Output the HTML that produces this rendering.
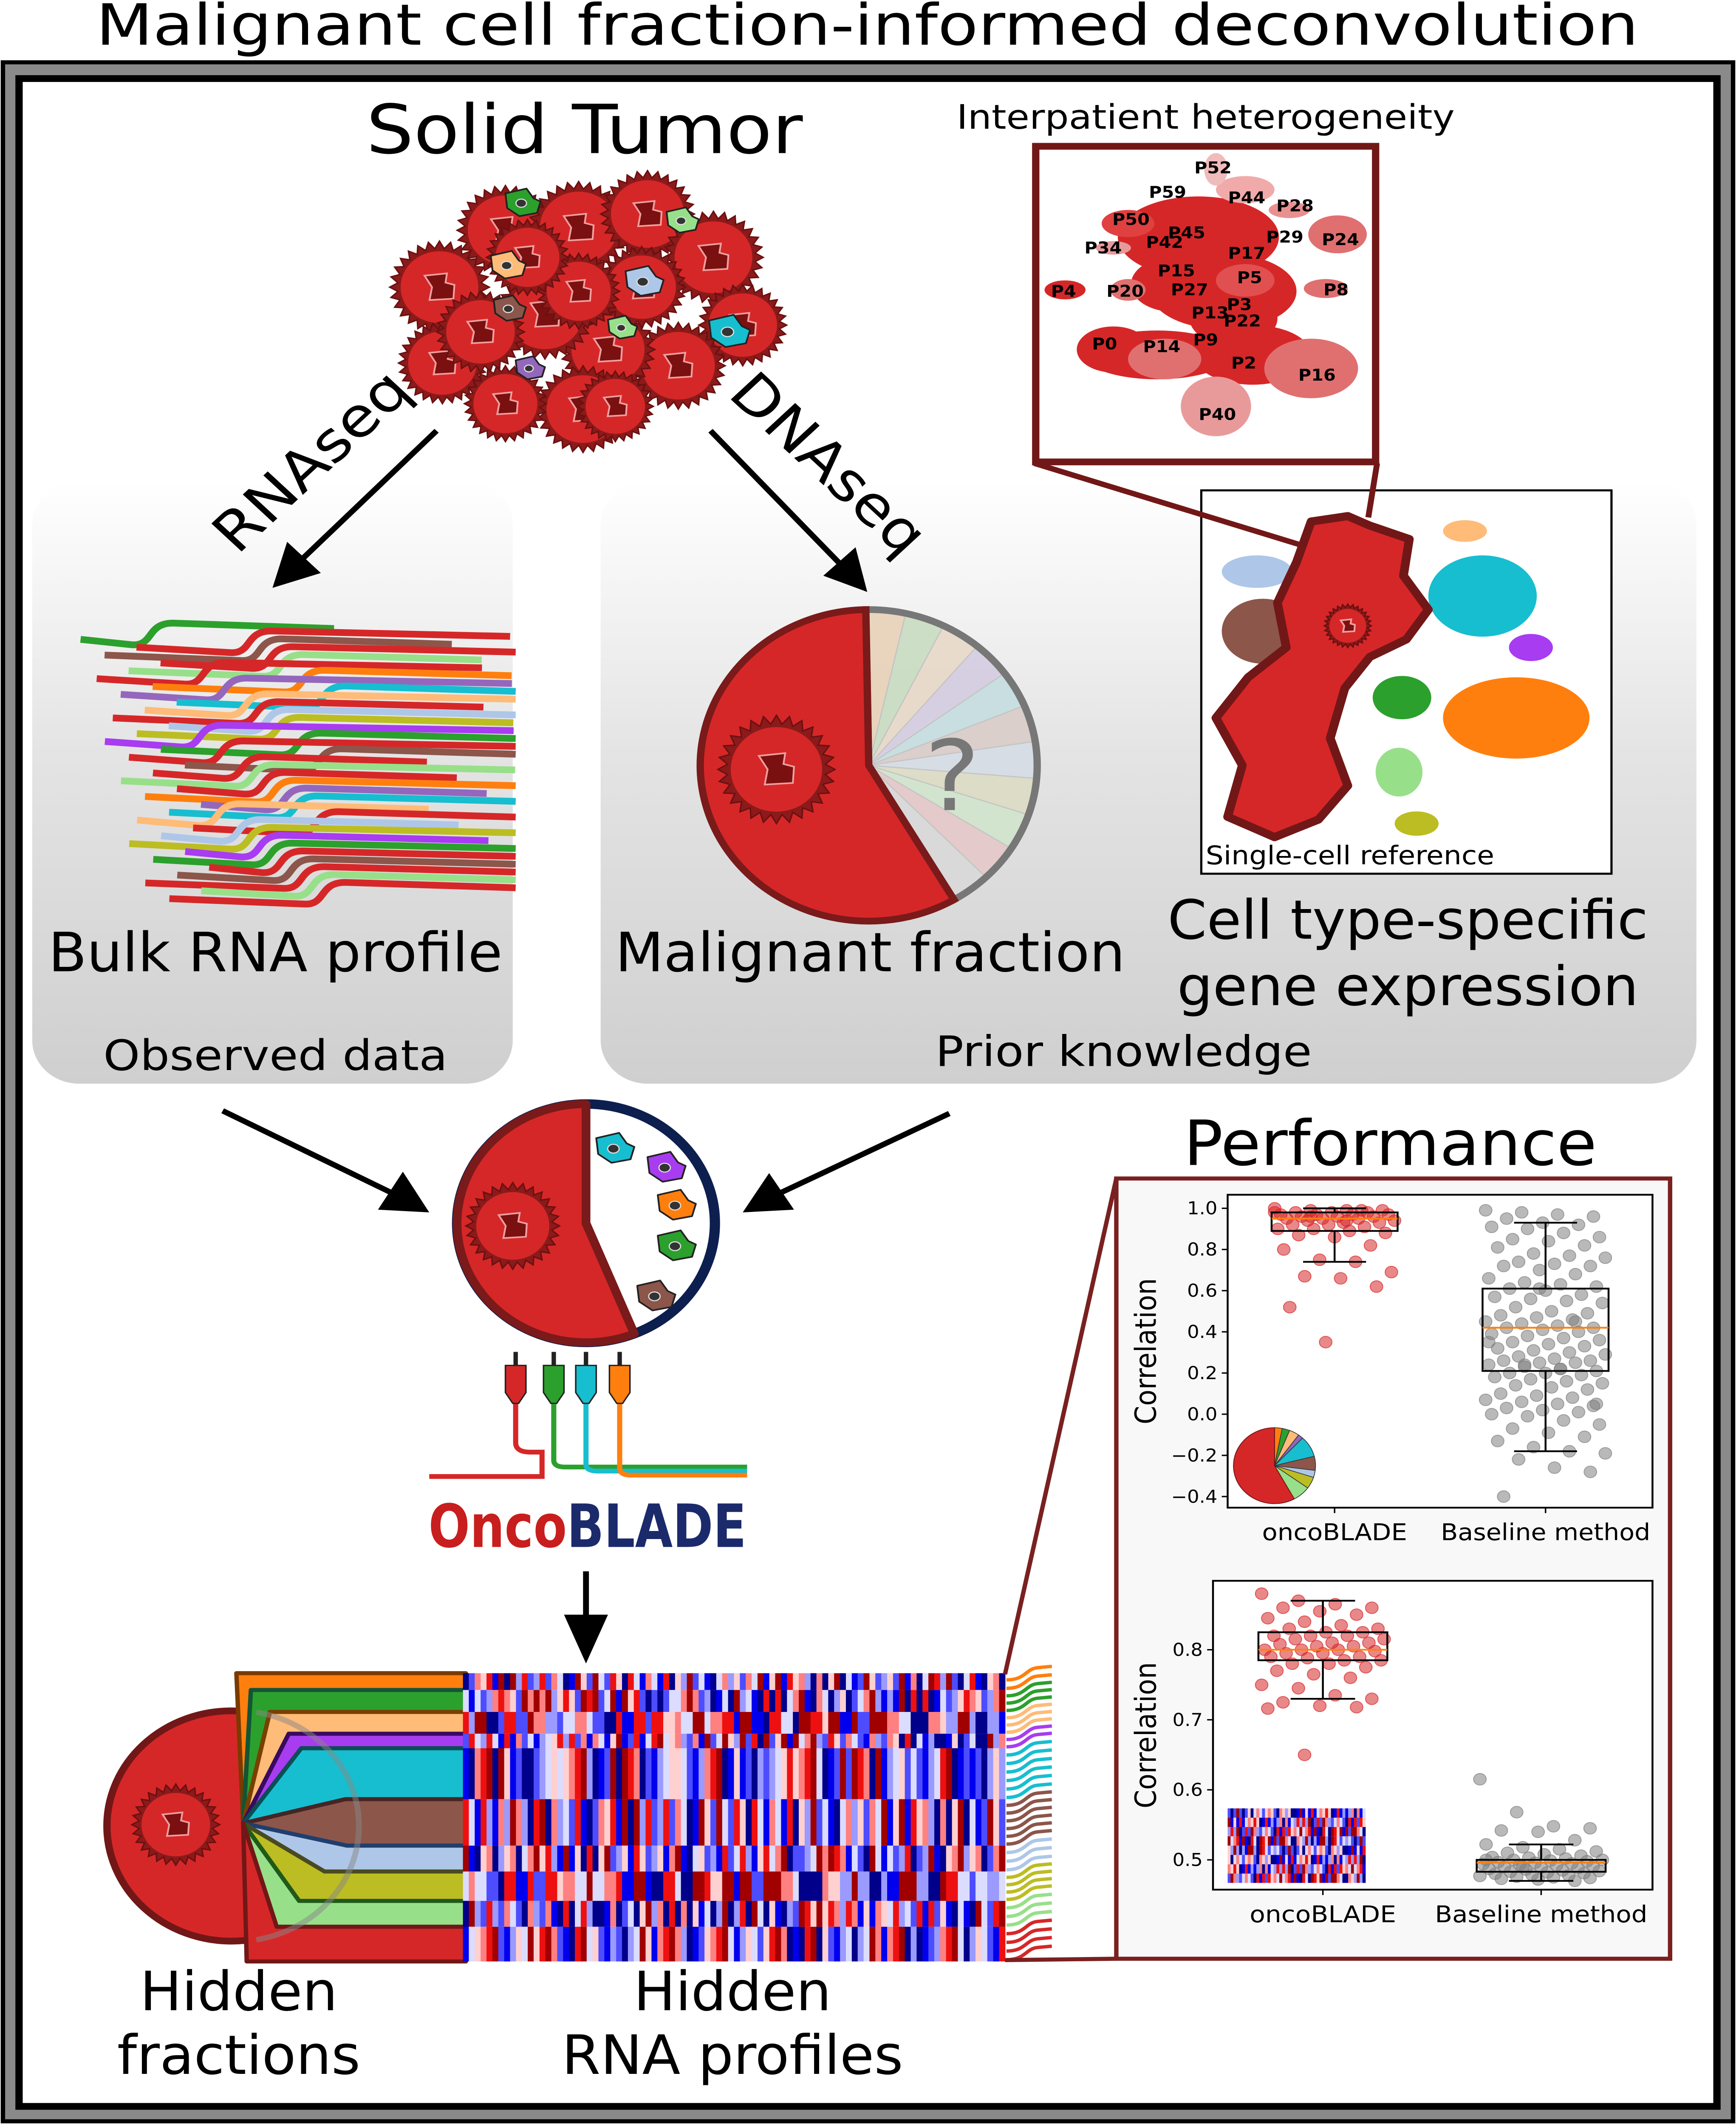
<!DOCTYPE html>
<html><head><meta charset="utf-8">
<style>
html,body{margin:0;padding:0;background:#fff;width:100%;height:100%;overflow:hidden;}
svg{display:block;position:fixed;left:0;top:0;width:100vw;height:100vh;}
text{font-family:"DejaVu Sans","Liberation Sans",sans-serif;}
</style></head>
<body>
<svg id="root" xmlns="http://www.w3.org/2000/svg" viewBox="0 0 1185 1568" preserveAspectRatio="none">
<defs>
<linearGradient id="pg" x1="0" y1="0" x2="0" y2="1">
<stop offset="0" stop-color="#ffffff"/><stop offset="0.45" stop-color="#e4e4e4"/><stop offset="1" stop-color="#cfcfcf"/>
</linearGradient>
</defs>
<rect x="0" y="0" width="1185" height="1568" fill="#fff"/>
<text x="592" y="33" font-size="42" text-anchor="middle" textLength="1053" lengthAdjust="spacingAndGlyphs">Malignant cell fraction-informed deconvolution</text>
<rect x="2" y="46" width="1181" height="1520" fill="#8a8a8a" stroke="#000" stroke-width="3"/>
<rect x="13" y="58" width="1159" height="1497" fill="#fff" stroke="#000" stroke-width="5"/>

<rect x="22" y="355" width="328" height="445" rx="32" fill="url(#pg)"/>
<rect x="410" y="355" width="748" height="445" rx="32" fill="url(#pg)"/>

<text x="399" y="113" font-size="50" text-anchor="middle" textLength="298" lengthAdjust="spacingAndGlyphs">Solid Tumor</text>
<g id="tumor"></g>

<line x1="298" y1="318" x2="205" y2="414" stroke="#000" stroke-width="4"/>
<polygon points="186,434 196,400 219,423" fill="#000"/>
<text transform="translate(222,350) rotate(-45)" font-size="40" text-anchor="middle" textLength="170" lengthAdjust="spacingAndGlyphs">RNAseq</text>
<line x1="485" y1="318" x2="575" y2="418" stroke="#000" stroke-width="4"/>
<polygon points="592,437 562,425 584,404" fill="#000"/>
<text transform="translate(556,352) rotate(45)" font-size="40" text-anchor="middle" textLength="170" lengthAdjust="spacingAndGlyphs">DNAseq</text>

<g id="bulk"></g>
<text x="188" y="717" font-size="40" text-anchor="middle" textLength="310" lengthAdjust="spacingAndGlyphs">Bulk RNA profile</text>
<text x="188" y="790" font-size="31" text-anchor="middle" textLength="235" lengthAdjust="spacingAndGlyphs">Observed data</text>

<g id="pie"></g>
<text x="594" y="717" font-size="40" text-anchor="middle" textLength="348" lengthAdjust="spacingAndGlyphs">Malignant fraction</text>
<text x="767" y="787" font-size="31" text-anchor="middle" textLength="257" lengthAdjust="spacingAndGlyphs">Prior knowledge</text>

<text x="823" y="95" font-size="25" text-anchor="middle" textLength="340" lengthAdjust="spacingAndGlyphs">Interpatient heterogeneity</text>
<g id="umap"></g>
<rect x="707" y="108" width="232" height="233" fill="none" stroke="#721717" stroke-width="5"/>

<rect x="820" y="362" width="280" height="283" fill="#fff" stroke="#000" stroke-width="1.5"/>
<g id="sc"></g>
<line x1="706" y1="342" x2="887" y2="402" stroke="#721717" stroke-width="4"/>
<line x1="940" y1="342" x2="934" y2="382" stroke="#721717" stroke-width="4"/>
<text x="823" y="638" font-size="19" textLength="197" lengthAdjust="spacingAndGlyphs">Single-cell reference</text>
<text x="961" y="693" font-size="40" text-anchor="middle" textLength="328" lengthAdjust="spacingAndGlyphs">Cell type-specific</text>
<text x="961" y="742" font-size="40" text-anchor="middle" textLength="315" lengthAdjust="spacingAndGlyphs">gene expression</text>

<line x1="152" y1="820" x2="270" y2="882" stroke="#000" stroke-width="4"/>
<polygon points="293,895 258,893 275,865" fill="#000"/>
<line x1="648" y1="822" x2="530" y2="882" stroke="#000" stroke-width="4"/>
<polygon points="507,895 525,866 542,893" fill="#000"/>

<g id="center"></g>
<g id="plugs"></g>
<text x="401" y="1142" font-size="44" font-weight="bold" text-anchor="middle" textLength="217" lengthAdjust="spacingAndGlyphs" font-family="Liberation Sans Narrow, Liberation Sans, sans-serif"><tspan fill="#c81e1e">Onco</tspan><tspan fill="#1b2a6b">BLADE</tspan></text>
<line x1="400" y1="1160" x2="400" y2="1195" stroke="#000" stroke-width="4"/>
<polygon points="385,1192 415,1192 400,1228" fill="#000"/>

<g id="sankey"></g>
<g id="heat"></g>
<g id="waves"></g>
<text x="163" y="1484" font-size="40" text-anchor="middle" textLength="135" lengthAdjust="spacingAndGlyphs">Hidden</text>
<text x="163" y="1531" font-size="40" text-anchor="middle" textLength="166" lengthAdjust="spacingAndGlyphs">fractions</text>
<text x="500" y="1484" font-size="40" text-anchor="middle" textLength="135" lengthAdjust="spacingAndGlyphs">Hidden</text>
<text x="500" y="1531" font-size="40" text-anchor="middle" textLength="233" lengthAdjust="spacingAndGlyphs">RNA profiles</text>

<text x="949" y="860" font-size="46" text-anchor="middle" textLength="282" lengthAdjust="spacingAndGlyphs">Performance</text>
<line x1="686" y1="1236" x2="762" y2="870" stroke="#7a2020" stroke-width="3"/>
<line x1="686" y1="1447" x2="762" y2="1446" stroke="#7a2020" stroke-width="3"/>
<rect x="762" y="870" width="378" height="576" fill="#f8f8f8" stroke="#7a2020" stroke-width="3"/>
<g id="chart1"></g>
<g id="chart2"></g>
</svg>

<script>
// ---- chart data ----
const categories = ["oncoBLADE", "Baseline method"];
const c1Ticks = [1.0, 0.8, 0.6, 0.4, 0.2, 0.0, -0.2, -0.4];
const c1TickLabels = ["1.0", "0.8", "0.6", "0.4", "0.2", "0.0", "\u22120.2", "\u22120.4"];
const c1OncoValues = [1.0,0.99,0.99,0.99,0.98,0.98,0.98,0.97,0.97,0.97,0.97,0.96,0.96,0.96,0.95,0.95,0.95,0.94,0.94,0.93,0.93,0.92,0.92,0.91,0.9,0.9,0.89,0.88,0.87,0.86,0.82,0.8,0.75,0.74,0.69,0.67,0.66,0.62,0.52,0.35,0.99,0.98,0.96,0.94];
const c1BaseValues = [0.99,0.98,0.97,0.96,0.95,0.93,0.92,0.91,0.9,0.88,0.86,0.85,0.84,0.82,0.81,0.78,0.77,0.76,0.74,0.73,0.72,0.72,0.7,0.68,0.66,0.64,0.63,0.62,0.61,0.6,0.58,0.57,0.56,0.55,0.54,0.52,0.5,0.49,0.48,0.47,0.46,0.45,0.44,0.43,0.42,0.42,0.41,0.4,0.39,0.38,0.37,0.36,0.35,0.34,0.33,0.32,0.31,0.3,0.29,0.28,0.27,0.26,0.26,0.25,0.25,0.24,0.23,0.22,0.21,0.2,0.2,0.19,0.18,0.17,0.16,0.15,0.14,0.13,0.12,0.1,0.09,0.08,0.07,0.06,0.05,0.04,0.03,0.02,0.01,0.0,-0.01,-0.03,-0.05,-0.07,-0.09,-0.11,-0.13,-0.16,-0.18,-0.19,-0.22,-0.26,-0.28,-0.4,0.61,0.45,0.35,0.24,0.22,0.05];
const c1Q1 = [0.89, 0.21];
const c1Median = [0.95, 0.42];
const c1Q3 = [0.98, 0.61];
const c1WhiskLo = [0.74, -0.18];
const c1WhiskHi = [1.0, 0.93];

const c2Ticks = [0.8, 0.7, 0.6, 0.5];
const c2TickLabels = ["0.8", "0.7", "0.6", "0.5"];
const c2OncoValues = [0.88,0.87,0.865,0.86,0.86,0.855,0.85,0.845,0.84,0.835,0.83,0.83,0.825,0.825,0.82,0.82,0.82,0.815,0.815,0.81,0.81,0.808,0.805,0.805,0.8,0.8,0.8,0.798,0.795,0.795,0.79,0.79,0.788,0.785,0.785,0.78,0.78,0.775,0.77,0.765,0.76,0.75,0.745,0.735,0.73,0.725,0.72,0.718,0.716,0.65];
const c2BaseValues = [0.615,0.568,0.548,0.545,0.542,0.54,0.528,0.522,0.518,0.515,0.512,0.51,0.508,0.506,0.504,0.503,0.502,0.5,0.5,0.499,0.498,0.497,0.496,0.495,0.494,0.493,0.492,0.491,0.49,0.489,0.488,0.487,0.486,0.485,0.484,0.483,0.482,0.481,0.48,0.479,0.478,0.477,0.476,0.475,0.474,0.473,0.472,0.47,0.5,0.49];
const c2Q1 = [0.785, 0.483];
const c2Median = [0.80, 0.496];
const c2Q3 = [0.825, 0.50];
const c2WhiskLo = [0.73, 0.47];
const c2WhiskHi = [0.87, 0.522];

const piePrior = [0.58, 0.03, 0.03, 0.04, 0.02, 0.09, 0.06, 0.03, 0.05, 0.07];
const pieColors = ["#d62728","#ff7f0e","#2ca02c","#ffbb78","#9467bd","#17becf","#8c564b","#aec7e8","#bcbd22","#98df8a"];

// ---- helpers ----
const NS = "http://www.w3.org/2000/svg";
function mk(parent, tag, attrs) {
  const e = document.createElementNS(NS, tag);
  for (const k in attrs) e.setAttribute(k, attrs[k]);
  parent.appendChild(e);
  return e;
}
function $(id){return document.getElementById(id);}

function star(cx, cy, r, n) {
  let p = [];
  for (let i = 0; i < n * 2; i++) {
    const a = Math.PI * i / n;
    const rr = i % 2 ? r * 0.84 : r;
    p.push((cx + rr * Math.cos(a)).toFixed(1) + "," + (cy + rr * Math.sin(a)).toFixed(1));
  }
  return p.join(" ");
}
function tumorCell(g, cx, cy, r, name) {
  const s = mk(g, "polygon", {points: star(cx, cy, r, 28), fill: "#8b1a1a", stroke: "#6b1010", "stroke-width": 1});
  
  
  const inner = mk(g, "circle", {cx: cx, cy: cy, r: r*0.78, fill: "#d62728"});
  
  
  const n = mk(g, "polygon", {points: [[-0.3,-0.25],[0.15,-0.3],[0.12,-0.1],[0.3,-0.05],[0.28,0.25],[-0.2,0.28],[-0.15,0]].map(q=>(cx+q[0]*r).toFixed(1)+","+(cy+q[1]*r).toFixed(1)).join(" "), fill: "#7a1010", stroke: "#f0a0a0", "stroke-width": 1.2});
  
  
}
function blobCell(g, cx, cy, s, color, name) {
  const pts = [[-1,-0.6],[0.2,-0.9],[0.6,-0.3],[1,-0.1],[0.8,0.6],[-0.2,0.8],[-0.9,0.3]];
  const b = mk(g, "polygon", {points: pts.map(q=>(cx+q[0]*s).toFixed(1)+","+(cy+q[1]*s).toFixed(1)).join(" "), fill: color, stroke: "#222", "stroke-width": 1.2, "stroke-linejoin": "round"});
  
  
  const n = mk(g, "ellipse", {cx: cx - 0.1*s, cy: cy, rx: 0.3*s, ry: 0.25*s, fill: "#333", stroke: "#ddd", "stroke-width": 0.8});
  
  
}

// ---- tumor cluster ----
(function(){
  const g = $("tumor");
  const cells = [[300,212,34],[345,170,33],[395,168,34],[442,158,32],[487,190,34],[507,240,30],[302,268,30],[463,270,32],[415,258,32],[372,232,33],[328,245,30],[398,302,32],[438,212,30],[345,298,28],[395,215,28],[360,190,28],[420,300,26]];
  cells.forEach((c,i)=>tumorCell(g,c[0],c[1],c[2],'tumor-cell-'+i));
  blobCell(g,357,150,12,"#2ca02c",'stromal-cell-green');
  blobCell(g,347,196,12,"#ffbb78",'stromal-cell-peach');
  blobCell(g,348,228,11,"#8c564b",'stromal-cell-brown');
  blobCell(g,466,163,11,"#98df8a",'stromal-cell-lightgreen');
  blobCell(g,440,208,13,"#aec7e8",'stromal-cell-lightblue');
  blobCell(g,498,245,14,"#17becf",'stromal-cell-cyan');
  blobCell(g,425,242,10,"#98df8a",'stromal-cell-lightgreen-2');
  blobCell(g,362,272,10,"#9467bd",'stromal-cell-purple');
})();

// ---- bulk rna lines ----
(function(){
  const g = $("bulk");
  const cols = ["#2ca02c","#d62728","#8c564b","#d62728","#98df8a","#d62728","#ff7f0e","#9467bd","#17becf","#ffbb78","#d62728","#aec7e8","#bcbd22","#a83cf0"];
  for (let i = 0; i < 34; i++) {
    const x0 = 55 + ((i * 37) % 60) + i * 1.2;
    const y0 = 472 + i * 5.8;
    const len = 110 + ((i * 53) % 100);
    const sx = x0 + 35 + ((i * 29) % 60);
    const d = `M${x0},${y0} L${sx},${y0+4} C${sx+15},${y0+5} ${sx+10},${y0-12} ${sx+28},${y0-12} L${Math.min(sx+28+len,352)},${y0-8}`;
    const p = mk(g, "path", {d: d, fill: "none", stroke: cols[i % cols.length], "stroke-width": 5});
    
    
  }
})();

// ---- pie ----
(function(){
  const g = $("pie");
  const cx = 593, cy = 565, r = 115;
  const a0 = -91 * Math.PI / 180, a1 = 59.6 * Math.PI / 180;
  const pastel = ["#e8d0b8","#c8dcc0","#e8d8c8","#d4cce0","#c4dde0","#d8ccc8","#d4dce4","#dcdcc4","#d0e4cc","#e4c8c8","#d8d8d8"];
  const nG = 11;
  for (let i = 0; i < nG; i++) {
    const t0 = a0 + (a1 - a0) * i / nG, t1 = a0 + (a1 - a0) * (i + 1) / nG;
    const p = mk(g, "path", {d: `M${cx},${cy} L${cx+r*Math.cos(t0)},${cy+r*Math.sin(t0)} A${r},${r} 0 0 1 ${cx+r*Math.cos(t1)},${cy+r*Math.sin(t1)} Z`, fill: pastel[i], "fill-opacity": 0.9, stroke: "#c4c4c4", "stroke-width": 0.8});
    
    
  }
  const gr = mk(g, "path", {d: `M${cx},${cy} L${cx+r*Math.cos(a0)},${cy+r*Math.sin(a0)} A${r},${r} 0 0 1 ${cx+r*Math.cos(a1)},${cy+r*Math.sin(a1)} Z`, fill: "none", stroke: "#777", "stroke-width": 5});
  
  
  const red = mk(g, "path", {d: `M${cx},${cy} L${cx+r*Math.cos(a1)},${cy+r*Math.sin(a1)} A${r},${r} 0 1 1 ${cx+r*Math.cos(a0)},${cy+r*Math.sin(a0)} Z`, fill: "#d62728", stroke: "#7a1a1a", "stroke-width": 5});
  
  
  tumorCell(g, 530, 568, 40, 'pie-tumor-cell');
  const q = mk(g, "text", {x: 650, y: 598, "font-size": 72, fill: "#777", "text-anchor": "middle"});
  q.textContent = "?";
  
  
})();

// ---- patient umap ----
(function(){
  const g = $("umap");
  const blobs = [
    [818,175,55,30,"#d62728"],[835,215,50,28,"#d62728"],[800,210,28,20,"#d62728"],[790,262,50,18,"#d62728"],[760,258,25,17,"#d62728"],
    [855,262,40,22,"#d62728"],[842,235,30,20,"#d62728"],[830,300,24,22,"#e89a9a"],[895,272,32,22,"#e07070"],[795,265,25,15,"#e07070"],
    [913,173,20,14,"#e07070"],[905,213,15,7,"#e07070"],[727,214,14,7,"#d62728"],[770,214,12,8,"#e07070"],[850,140,20,10,"#f0aaaa"],
    [830,125,8,12,"#f0bbbb"],[880,155,14,6,"#e89090"],[760,183,12,5,"#e89a9a"],[850,207,20,12,"#e05050"],[770,165,18,10,"#e04040"]
  ];
  blobs.forEach(b=>{
    const e = mk(g, "ellipse", {cx:b[0], cy:b[1], rx:b[2], ry:b[3], fill:b[4]});
    
    
  });
  const labs = [["P52",828,128],["P59",797,146],["P44",851,150],["P28",884,156],["P50",772,166],["P45",810,176],["P42",795,183],["P29",877,179],["P24",915,181],["P34",753,187],["P17",851,191],["P15",803,204],["P5",853,209],["P4",726,219],["P20",768,219],["P27",812,218],["P8",912,218],["P3",846,229],["P13",826,235],["P22",848,241],["P0",754,258],["P9",823,255],["P14",793,260],["P2",849,272],["P16",899,281],["P40",831,310]];
  labs.forEach(l=>{
    const t = mk(g, "text", {x:l[1], y:l[2], "font-size":12, "font-weight":"bold", "text-anchor":"middle"});
    t.textContent = l[0];
    
    
  });
})();

// ---- single-cell umap ----
(function(){
  const g = $("sc");
  const sh = [
    [1012,440,37,30,"#17becf"],[1035,530,50,30,"#ff7f0e"],[862,466,28,24,"#8c564b"],[957,515,20,16,"#2ca02c"],[955,570,16,18,"#98df8a"],
    [967,608,15,9,"#bcbd22"],[1045,478,15,10,"#a83cf0"],[858,422,24,12,"#aec7e8"],[1000,392,15,8,"#ffbb78"]
  ];
  sh.forEach(s=>{
    const e = mk(g, "ellipse", {cx:s[0], cy:s[1], rx:s[2], ry:s[3], fill:s[4]});
    
    
  });
  const red = mk(g, "polygon", {points:"895,385 920,381 935,388 962,398 958,425 975,450 960,472 935,485 918,508 908,545 920,580 900,605 870,618 838,603 848,565 830,530 852,500 878,478 872,445 885,415", fill:"#d62728", stroke:"#721717", "stroke-width":6, "stroke-linejoin":"round"});
  
  
  tumorCell(g, 920, 462, 16, 'reference-tumor-cell');
})();

// ---- center model circle ----
(function(){
  const g = $("center");
  const cx = 400, cy = 903, r = 88;
  const w = mk(g, "circle", {cx:cx, cy:cy, r:r, fill:"#fff", stroke:"#0d1f4f", "stroke-width":7});
  
  
  const a0 = -90*Math.PI/180, a1 = 68*Math.PI/180;
  const p = mk(g, "path", {d:`M${cx},${cy} L${cx+r*Math.cos(a1)},${cy+r*Math.sin(a1)} A${r},${r} 0 1 1 ${cx+r*Math.cos(a0)},${cy+r*Math.sin(a0)} Z`, fill:"#d62728", stroke:"#7a1a1a", "stroke-width":6, "stroke-linejoin":"round"});
  
  
  tumorCell(g, 350, 905, 32, 'model-tumor-cell');
  blobCell(g, 420, 848, 13, "#17becf", 'model-cell-cyan');
  blobCell(g, 455, 862, 13, "#a83cf0", 'model-cell-purple');
  blobCell(g, 462, 890, 13, "#ff7f0e", 'model-cell-orange');
  blobCell(g, 462, 920, 13, "#2ca02c", 'model-cell-green');
  blobCell(g, 448, 957, 13, "#8c564b", 'model-cell-brown');
})();

// ---- plugs ----
(function(){
  const g = $("plugs");
  const pl = [[352,"#d62728"],[378,"#2ca02c"],[400,"#17becf"],[423,"#ff7f0e"]];
  pl.forEach((p,i)=>{
    const x = p[0];
    const d = i === 0 ? `M${x},1035 L${x},1065 Q${x},1072 ${x+10},1072 L370,1072 L370,1090 L293,1090`
                      : `M${x},1035 L${x},${1075+i*3} Q${x},${1080+i*3} ${x+8},${1080+i*3} L510,${1080+i*3}`;
    const c = mk(g, "path", {d:d, fill:"none", stroke:p[1], "stroke-width":3.5});
    
    
    const b = mk(g, "path", {d:`M${x-7},1008 L${x+7},1008 L${x+7},1028 L${x+2},1036 L${x-2},1036 L${x-7},1028 Z`, fill:p[1], stroke:"#222", "stroke-width":1});
    
    
    const pin = mk(g, "rect", {x:x-1.5, y:998, width:3, height:10, fill:"#222"});
    
    
  });
})();

// ---- sankey & heatmap ----
const rowEdges = [1235.2,1247.6,1263.8,1279.9,1290.6,1328.2,1362.5,1381.6,1403.3,1422.4,1448];
const rowColors = ["#ff7f0e","#2ca02c","#ffbb78","#a83cf0","#17becf","#8c564b","#aec7e8","#bcbd22","#98df8a","#d62728"];
const rowDark = ["#7a3a00","#125535","#7a4000","#3a0a60","#0a4f55","#452525","#1f3f6e","#4a4a20","#205a18","#721717"];
const heatLevels = "0842716305847261038450728163047582613057482016374850261738405162708354182607345810627384051726834051627380415263708142";
const heatColors = ["#00008b","#0000ee","#4d4dff","#9a9aff","#dcdcff","#ffd0d0","#ff8080","#ee1010","#a00000"];
(function(){
  const g = $("sankey");
  const circ = mk(g, "circle", {cx:158, cy:1348, r:85, fill:"#d62728", stroke:"#721717", "stroke-width":5});
  
  
  tumorCell(g, 120, 1347, 30, 'hidden-tumor-cell');
  const px = 166, py = 1346;
  for (let i = 0; i < rowColors.length; i++) {
    const y0 = rowEdges[i], y1 = rowEdges[i+1];
    const k0 = Math.max(160, 250 - Math.abs(y0 - py) * 0.8), k1 = Math.max(160, 250 - Math.abs(y1 - py) * 0.8);
    const b = mk(g, "polygon", {points:`${px},${py} ${k0},${y0} 318,${y0} 318,${y1} ${k1},${y1}`, fill:rowColors[i], stroke:rowDark[i], "stroke-width":3, "stroke-linejoin":"round"});
    
    
  }
  const arc = mk(g, "path", {d:"M175,1264 A85,85 0 0 1 245,1348 A85,85 0 0 1 175,1432", fill:"none", stroke:"#888", "stroke-opacity":0.5, "stroke-width":4});
  
  

  const h = $("heat");
  const nCol = 92, x0 = 316, x1 = 686, cw = (x1 - x0) / nCol;
  for (let r = 0; r < rowColors.length; r++) {
    for (let c = 0; c < nCol; c++) {
      const lv = +heatLevels[(c * 3 + r * 11 + (c * r) % 5) % heatLevels.length];
      const cell = mk(h, "rect", {x:(x0 + c*cw).toFixed(2), y:rowEdges[r], width:(cw+0.3).toFixed(2), height:rowEdges[r+1]-rowEdges[r], fill:heatColors[lv]});
      
      
    }
  }
  const w = $("waves");
  for (let r = 0; r < rowColors.length; r++) {
    const y0 = rowEdges[r], y1 = rowEdges[r+1];
    const n = Math.max(2, Math.round((y1 - y0) / 6));
    for (let k = 0; k < n; k++) {
      const y = y0 + (k + 0.8) * (y1 - y0) / n;
      const p = mk(w, "path", {d:`M687,${y} C700,${y} 700,${y-8} 708,${y-9} L718,${y-10}`, fill:"none", stroke:rowColors[r], "stroke-width":2.5});
      
      
    }
  }
})();

// ---- boxplot charts ----
function jit(i){ return ((i * 53) % 41 - 20) / 20; }
function drawChart(g, cfg) {
  const {L, R, T, B, yScale, xs, ticks, tickLabels, groups, q1, med, q3, wlo, whi, halfBox, ptColors, labelLens} = cfg;
  const bg = mk(g, "rect", {x:L, y:T, width:R-L, height:B-T, fill:"#fff", stroke:"none"});
  
  
  groups.forEach((vals, gi) => {
    vals.forEach((v, i) => {
      const c = mk(g, "circle", {cx:(xs[gi] + jit(i) * halfBox * 0.95).toFixed(1), cy:yScale(v).toFixed(1), r:4.3, fill:ptColors[gi], "fill-opacity":0.55, stroke:ptColors[gi], "stroke-opacity":0.7, "stroke-width":0.6});
      
      
    });
    const x = xs[gi];
    const box = mk(g, "rect", {x:x-halfBox, y:yScale(q3[gi]), width:halfBox*2, height:yScale(q1[gi])-yScale(q3[gi]), fill:"none", stroke:"#000", "stroke-width":1.3});
    
    
    const m = mk(g, "line", {x1:x-halfBox, x2:x+halfBox, y1:yScale(med[gi]), y2:yScale(med[gi]), stroke:"#ff7f0e", "stroke-width":1.3});
    
    
    const w1 = mk(g, "line", {x1:x, x2:x, y1:yScale(q3[gi]), y2:yScale(whi[gi]), stroke:"#000", "stroke-width":1.3});
    
    
    const w2 = mk(g, "line", {x1:x, x2:x, y1:yScale(q1[gi]), y2:yScale(wlo[gi]), stroke:"#000", "stroke-width":1.3});
    
    
    const c1 = mk(g, "line", {x1:x-halfBox*0.5, x2:x+halfBox*0.5, y1:yScale(whi[gi]), y2:yScale(whi[gi]), stroke:"#000", "stroke-width":1.3});
    
    
    const c2 = mk(g, "line", {x1:x-halfBox*0.5, x2:x+halfBox*0.5, y1:yScale(wlo[gi]), y2:yScale(wlo[gi]), stroke:"#000", "stroke-width":1.3});
    
    
    const tk = mk(g, "line", {x1:x, x2:x, y1:B, y2:B+4, stroke:"#000", "stroke-width":1});
    
    
    const tl = mk(g, "text", {x:x, y:B+24, "font-size":17, "text-anchor":"middle", textLength:labelLens[gi], lengthAdjust:"spacingAndGlyphs"});
    tl.textContent = categories[gi];
    
    
  });
  ticks.forEach((t, i) => {
    const y = yScale(t);
    const tk = mk(g, "line", {x1:L-4, x2:L, y1:y, y2:y, stroke:"#000", "stroke-width":1});
    
    
    const tl = mk(g, "text", {x:L-7, y:y+4.5, "font-size":13, "text-anchor":"end"});
    tl.textContent = tickLabels[i];
    
    
  });
  const fr = mk(g, "rect", {x:L, y:T, width:R-L, height:B-T, fill:"none", stroke:"#000", "stroke-width":1.3});
  
  
  const yt = mk(g, "text", {transform:`translate(${cfg.yTitleX},${(T+B)/2}) rotate(-90)`, "font-size":20, "text-anchor":"middle", textLength:108, lengthAdjust:"spacingAndGlyphs"});
  yt.textContent = "Correlation";
  
  
}

(function(){
  const g = $("chart1");
  const yScale = v => 1044 - 152 * v;
  drawChart(g, {L:838, R:1128, T:882, B:1113, yScale, xs:[911,1055], ticks:c1Ticks, tickLabels:c1TickLabels,
    groups:[c1OncoValues, c1BaseValues], q1:c1Q1, med:c1Median, q3:c1Q3, wlo:c1WhiskLo, whi:c1WhiskHi, halfBox:43, ptColors:["#d62728","#808080"], yTitleX:789, labelLens:[99,143]});
  const cx = 870, cy = 1082, r = 28;
  const tot = piePrior.reduce((a,b)=>a+b,0);
  let start = -Math.PI/2;
  for (let k = 1; k < piePrior.length; k++) {
    const sweep = piePrior[k] / tot * 2 * Math.PI;
    const e = start + sweep;
    const p = mk(g, "path", {d:`M${cx},${cy} L${cx+r*Math.cos(start)},${cy+r*Math.sin(start)} A${r},${r} 0 0 1 ${cx+r*Math.cos(e)},${cy+r*Math.sin(e)} Z`, fill:pieColors[k], stroke:"#333", "stroke-width":0.5});
    
    
    start = e;
  }
  const p0 = mk(g, "path", {d:`M${cx},${cy} L${cx+r*Math.cos(start)},${cy+r*Math.sin(start)} A${r},${r} 0 ${piePrior[0]/tot>0.5?1:0} 1 ${cx},${cy-r} Z`, fill:pieColors[0], stroke:"#721717", "stroke-width":0.6});
  
  
})();

(function(){
  const g = $("chart2");
  const yScale = v => 1373 - 517 * (v - 0.5);
  drawChart(g, {L:828, R:1128, T:1167, B:1395, yScale, xs:[903,1052], ticks:c2Ticks, tickLabels:c2TickLabels,
    groups:[c2OncoValues, c2BaseValues], q1:c2Q1, med:c2Median, q3:c2Q3, wlo:c2WhiskLo, whi:c2WhiskHi, halfBox:44, ptColors:["#d62728","#808080"], yTitleX:789, labelLens:[100,145]});
  const x0 = 838, x1 = 932, y0 = 1335, y1 = 1390, nr = 8, nc = 48;
  for (let r = 0; r < nr; r++) for (let c = 0; c < nc; c++) {
    const lv = +heatLevels[(c * 5 + r * 7 + 3) % heatLevels.length];
    const cell = mk(g, "rect", {x:(x0 + c*(x1-x0)/nc).toFixed(2), y:(y0 + r*(y1-y0)/nr).toFixed(2), width:((x1-x0)/nc+0.2).toFixed(2), height:((y1-y0)/nr).toFixed(2), fill:heatColors[lv]});
    
    
  }
})();
</script>
</body></html>
